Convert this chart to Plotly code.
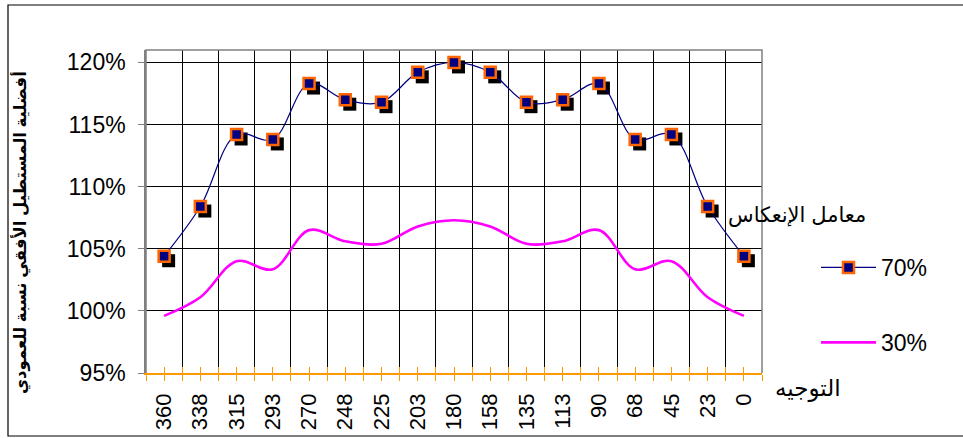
import plotly.graph_objects as go

# ---------------- data ----------------
directions = ["360", "338", "315", "293", "270", "248", "225", "203", "180",
              "158", "135", "113", "90", "68", "45", "23", "0"]
r70 = [104.4, 108.4, 114.2, 113.8, 118.3, 117.0, 116.8, 119.2, 120.0,
       119.2, 116.8, 117.0, 118.3, 113.8, 114.2, 108.4, 104.4]
r30 = [99.6, 101.1, 104.0, 103.35, 106.5, 105.6, 105.4, 106.8, 107.3,
       106.8, 105.4, 105.6, 106.5, 103.35, 104.0, 101.1, 99.6]
y_ticks = [95, 100, 105, 110, 115, 120]
y_tick_labels = ["95%", "100%", "105%", "110%", "115%", "120%"]
series_names = ["70%", "30%"]
legend_title = "معامل الإنعكاس"
x_title = "التوجيه"
y_title = "أفضلية المستطيل الأفقي نسبة للعمودي"

# ---------------- layout geometry ----------------
W, H = 963, 438
L, R, T, B = 146, 762, 50, 373          # plot area in pixels
YMIN, YMAX = 95, 121
idx = list(range(len(directions)))
XR = [-0.5, len(directions) - 0.5]
bounds = [i - 0.5 for i in range(len(directions) + 1)]

def px(xp):
    return (xp - L) / (R - L)

def py(yp):
    return (B - yp) / (B - T)

# shadow offset (pixels -> data units)
SH = 4.5
dx = SH * (XR[1] - XR[0]) / (R - L)
dy = SH * (YMAX - YMIN) / (B - T)

FONT = "Arial, Liberation Sans, DejaVu Sans, sans-serif"
ORANGE = "#FF9900"

fig = go.Figure()

# 30% series (base axes)
fig.add_trace(go.Scatter(
    x=idx, y=r30, name=series_names[1], mode="lines",
    line=dict(color="#FF00FF", width=2.6, shape="spline", smoothing=1),
    legendgroup="b", legendrank=2, xaxis="x", yaxis="y"))

# marker shadows (shifted overlay axes)
fig.add_trace(go.Scatter(
    x=idx, y=r70, mode="markers", showlegend=False, hoverinfo="skip",
    marker=dict(symbol="square", size=13, color="black", line=dict(width=0)),
    xaxis="x2", yaxis="y2"))

# 70% series
fig.add_trace(go.Scatter(
    x=idx, y=r70, name=series_names[0], mode="lines+markers",
    line=dict(color="#000080", width=1.2, shape="spline", smoothing=1),
    marker=dict(symbol="square", size=11, color="#000080",
                line=dict(color="#FF6600", width=2.5)),
    legendgroup="a", legendrank=1, xaxis="x3", yaxis="y3"))

fig.update_layout(
    width=W, height=H,
    margin=dict(l=L, r=W - R, t=T, b=H - B, pad=0, autoexpand=False),
    paper_bgcolor="white", plot_bgcolor="white",
    font=dict(family=FONT, color="black", size=20),
    xaxis=dict(
        range=XR, tickmode="array", tickvals=idx, ticktext=directions,
        tickangle=-90, tickfont=dict(size=22), ticks="outside", ticklen=6,
        tickcolor=ORANGE, tickwidth=1.3, showgrid=False, zeroline=False,
        showline=True, linecolor=ORANGE, linewidth=1.6,
        ticklabelstandoff=4, automargin=False,
        minor=dict(tickmode="array", tickvals=bounds, ticks="outside",
                   ticklen=6, tickcolor=ORANGE, tickwidth=1.3,
                   showgrid=True, gridcolor="black", gridwidth=1),
    ),
    yaxis=dict(
        range=[YMIN, YMAX], tickmode="array", tickvals=y_ticks,
        ticktext=y_tick_labels, tickfont=dict(size=23), ticks="outside",
        ticklen=6, tickcolor="#808080", showgrid=True, gridcolor="black",
        gridwidth=1, zeroline=False, showline=True, linecolor="#808080",
        linewidth=1.5, ticklabelstandoff=8, automargin=False,
    ),
    xaxis2=dict(overlaying="x", anchor="y2", range=[XR[0] - dx, XR[1] - dx],
                visible=False),
    yaxis2=dict(overlaying="y", anchor="x2", range=[YMIN + dy, YMAX + dy],
                visible=False),
    xaxis3=dict(overlaying="x", anchor="y3", range=XR, tickmode="array",
                tickvals=idx, showticklabels=False, ticks="inside", ticklen=6,
                tickcolor=ORANGE, tickwidth=1.3, showgrid=False,
                zeroline=False, showline=False,
                minor=dict(tickmode="array", tickvals=bounds, ticks="inside",
                           ticklen=6, tickcolor=ORANGE, tickwidth=1.3,
                           showgrid=False)),
    yaxis3=dict(overlaying="y", anchor="x3", range=[YMIN, YMAX],
                showticklabels=False, ticks="", showgrid=False,
                zeroline=False, showline=False),
    showlegend=True,
    legend=dict(x=px(816), y=py(246), xanchor="left", yanchor="top",
                font=dict(size=23), itemwidth=55, tracegroupgap=42,
                bgcolor="rgba(0,0,0,0)", borderwidth=0),
    shapes=[
        # plot area border (top/right) in grey
        dict(type="path", xref="paper", yref="paper", layer="above",
             path="M 0,0 L 0,1 L 1,1 L 1,0",
             line=dict(color="#808080", width=1.5)),
        # outer chart frame
        dict(type="rect", xref="paper", yref="paper", layer="below",
             x0=px(8), x1=px(975), y0=py(436), y1=py(5),
             line=dict(color="black", width=1.2)),
    ],
    annotations=[
        dict(text=legend_title, xref="paper", yref="paper", x=px(797),
             y=py(215), showarrow=False, font=dict(size=21),
             xanchor="center", yanchor="middle"),
        dict(text=x_title, xref="paper", yref="paper", x=px(808),
             y=py(388), showarrow=False, font=dict(size=23),
             xanchor="center", yanchor="middle"),
        dict(text="<b>" + y_title + "</b>", xref="paper", yref="paper",
             x=px(20), y=py(233), showarrow=False, textangle=-90,
             font=dict(size=16.5), xanchor="center", yanchor="middle"),
    ],
)

fig.write_html("out.html",
               config={"displayModeBar": False},
               post_script="document.body.style.margin='0';"
                           "document.body.style.overflow='hidden';")
